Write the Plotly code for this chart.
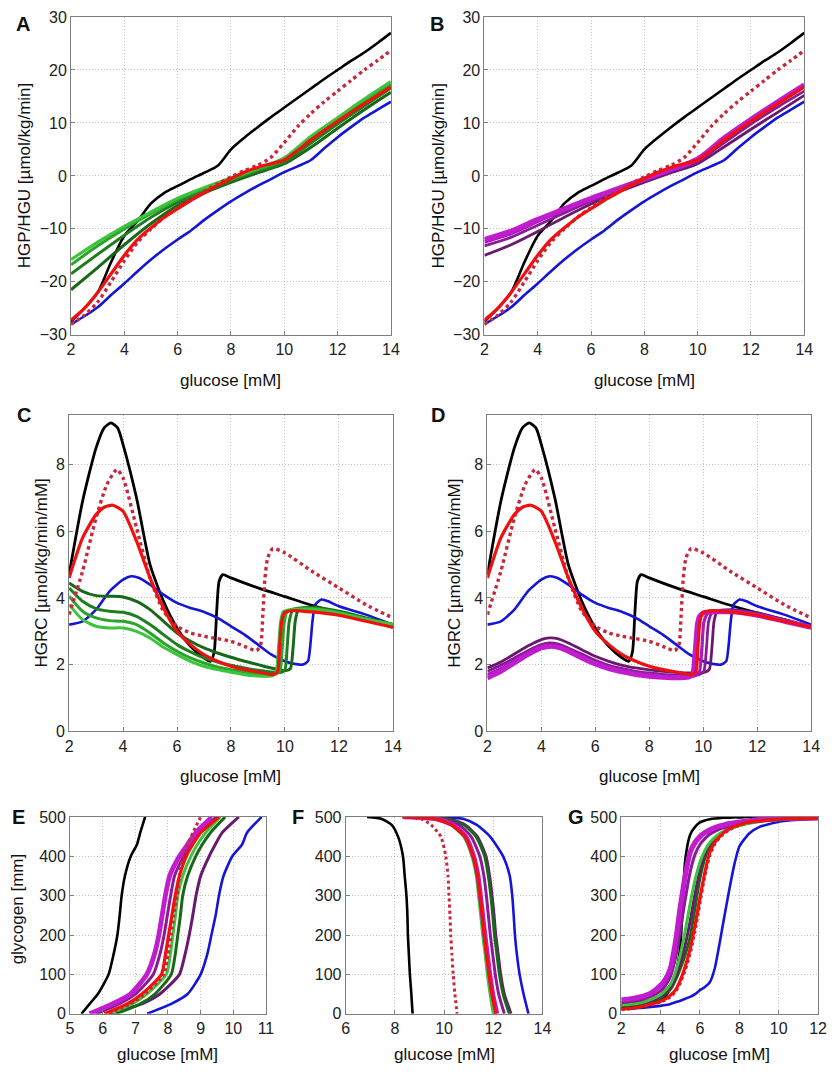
import plotly.graph_objects as go

# ---------------- Panel A / B : HGP/HGU vs glucose ----------------
glu_AB = [2, 2.5, 3, 3.5, 4, 4.5, 5, 5.5, 6, 6.5, 7, 7.5, 8, 8.5, 9, 9.5, 10, 10.5, 11, 11.5, 12, 12.5, 13, 13.5, 14]
hgp_black = [-27.5, -25, -22, -16.3, -11.3, -8.5, -5.2, -3.2, -1.9, -0.6, 0.6, 1.9, 5.0, 7.2, 9.2, 11.1, 12.9, 14.7, 16.5, 18.3, 20.0, 21.7, 23.3, 25.1, 27.0]
hgp_reddot = [-28, -26.3, -23.8, -20, -16, -12.5, -10, -7.8, -6, -4.3, -2.8, -1.5, -0.2, 1.0, 2.0, 3.5, 6.3, 9.3, 11.8, 14, 16, 18, 20, 21.8, 23.7]
hgp_red = [-27.2, -25, -22, -18.5, -15, -12, -9.8, -7.8, -6.2, -4.6, -3.2, -1.8, -0.5, 0.7, 1.6, 2.3, 3.0, 4.8, 6.8, 8.6, 10.3, 12, 13.6, 15.2, 16.8]
hgp_blue = [-28, -26.5, -24.8, -22.5, -20.3, -18, -15.8, -13.8, -12, -10.3, -8.3, -6.5, -4.8, -3.3, -1.9, -0.6, 0.7, 1.8, 3.0, 5.2, 7.3, 9.2, 11, 12.5, 14.0]

glu_AB_int = [2, 3, 4, 5, 6, 7, 8, 9, 10, 11, 12, 13, 14]
hgp_g1 = [-15.8, -12.5, -9.5, -6.8, -4.2, -2.2, -0.4, 1.4, 3.4, 7.5, 11, 14.5, 17.8]
hgp_g2 = [-16.8, -13.2, -10, -7.1, -4.5, -2.4, -0.6, 1.2, 3.0, 7.0, 10.5, 14, 17.3]
hgp_g3 = [-18.5, -14.8, -11.2, -7.8, -5.0, -2.8, -0.9, 0.9, 2.6, 6.2, 9.8, 13.2, 16.6]
hgp_g4 = [-21.5, -17.3, -13, -9, -5.6, -3.2, -1.2, 0.6, 2.3, 5.4, 9.0, 12.5, 15.8]
hgp_p1 = [-12, -10.4, -8.2, -6.2, -4.2, -2.4, -0.6, 1.2, 3.2, 7.2, 10.7, 14, 17.2]
hgp_p2 = [-12.5, -10.9, -8.6, -6.5, -4.5, -2.6, -0.7, 1.1, 3.0, 6.9, 10.4, 13.7, 16.8]
hgp_p3 = [-13.2, -11.6, -9.3, -7.0, -4.8, -2.8, -0.9, 0.9, 2.7, 6.3, 9.8, 13.0, 16.0]
hgp_p4 = [-15.0, -13.0, -10.5, -7.8, -5.3, -3.1, -1.2, 0.6, 2.3, 5.5, 8.8, 12.0, 15.2]

# ---------------- Panel C / D : HGRC vs glucose ----------------
glu_C_black = [2, 2.5, 3, 3.3, 3.55, 3.8, 4, 4.5, 5, 5.5, 6, 6.5, 7, 7.25, 7.38, 7.47, 7.56, 7.7, 8, 9, 10, 11, 12, 13, 14]
hgrc_black = [4.7, 6.9, 8.5, 9.1, 9.25, 9.1, 8.6, 7.0, 5.0, 3.9, 3.1, 2.55, 2.2, 2.1, 2.4, 3.6, 4.5, 4.7, 4.6, 4.3, 4.04, 3.78, 3.55, 3.35, 3.12]
glu_C_reddot = [2, 2.5, 3, 3.4, 3.77, 4, 4.5, 5, 5.5, 6, 6.5, 7, 7.5, 8, 8.5, 8.95, 9.1, 9.18, 9.26, 9.36, 9.55, 10, 11, 12, 13, 14]
hgrc_reddot = [3.5, 4.8, 6.4, 7.4, 7.85, 7.6, 6.1, 4.6, 3.6, 3.15, 2.95, 2.85, 2.78, 2.7, 2.55, 2.42, 2.6, 3.5, 4.6, 5.2, 5.48, 5.35, 4.8, 4.3, 3.8, 3.4]
glu_C_red = [2, 2.5, 3, 3.3, 3.62, 4, 4.5, 5, 5.5, 6, 6.5, 7, 7.5, 8, 8.5, 9, 9.55, 9.72, 9.8, 9.88, 9.98, 10.3, 11, 12, 13, 14]
hgrc_red = [4.6, 5.8, 6.5, 6.72, 6.78, 6.6, 5.7, 4.6, 3.7, 3.0, 2.6, 2.3, 2.1, 1.95, 1.85, 1.78, 1.7, 1.78, 2.5, 3.3, 3.55, 3.62, 3.58, 3.48, 3.3, 3.12]
glu_C_blue = [2, 2.5, 3, 3.5, 4, 4.3, 4.6, 5, 5.5, 6, 6.5, 7, 7.5, 8, 8.5, 9, 9.5, 10, 10.3, 10.65, 10.85, 10.93, 11.02, 11.12, 11.35, 11.6, 12, 13, 14]
hgrc_blue = [3.2, 3.3, 3.65, 4.2, 4.55, 4.65, 4.6, 4.4, 4.1, 3.85, 3.7, 3.58, 3.4, 3.15, 2.9, 2.6, 2.3, 2.1, 2.03, 2.0, 2.1, 2.5, 3.3, 3.8, 3.95, 3.9, 3.75, 3.5, 3.2]

glu_C_g4 = [2, 2.5, 3, 3.5, 4, 4.5, 5, 5.5, 6, 6.5, 7, 7.5, 8, 8.5, 9, 9.5, 10, 10.2, 10.3, 10.38, 10.5, 11, 12, 13, 14]
hgrc_g4 = [4.45, 4.2, 4.07, 4.05, 4.03, 3.9, 3.65, 3.3, 2.95, 2.7, 2.5, 2.35, 2.22, 2.1, 2.0, 1.9, 1.82, 1.88, 2.5, 3.3, 3.65, 3.72, 3.6, 3.4, 3.2]
glu_C_g3 = [2, 2.5, 3, 3.5, 4, 4.5, 5, 5.5, 6, 6.5, 7, 7.5, 8, 8.5, 9, 9.5, 9.85, 10.0, 10.08, 10.16, 10.3, 11, 12, 13, 14]
hgrc_g3 = [4.3, 3.9, 3.68, 3.6, 3.57, 3.45, 3.2, 2.9, 2.6, 2.38, 2.2, 2.08, 1.98, 1.9, 1.83, 1.78, 1.77, 1.85, 2.5, 3.3, 3.65, 3.7, 3.58, 3.38, 3.2]
glu_C_g2 = [2, 2.5, 3, 3.5, 4, 4.5, 5, 5.5, 6, 6.5, 7, 7.5, 8, 8.5, 9, 9.4, 9.68, 9.82, 9.9, 9.98, 10.1, 11, 12, 13, 14]
hgrc_g2 = [4.05, 3.6, 3.4, 3.32, 3.3, 3.2, 2.95, 2.65, 2.4, 2.2, 2.05, 1.93, 1.85, 1.78, 1.72, 1.7, 1.72, 1.85, 2.5, 3.3, 3.62, 3.68, 3.56, 3.37, 3.2]
glu_C_g1 = [2, 2.5, 3, 3.5, 4, 4.5, 5, 5.5, 6, 6.5, 7, 7.5, 8, 8.5, 9, 9.3, 9.55, 9.68, 9.76, 9.84, 9.95, 11, 12, 13, 14]
hgrc_g1 = [3.8, 3.35, 3.15, 3.1, 3.1, 3.0, 2.8, 2.52, 2.3, 2.1, 1.95, 1.85, 1.77, 1.7, 1.66, 1.65, 1.67, 1.8, 2.5, 3.3, 3.6, 3.66, 3.55, 3.36, 3.2]

glu_D_p4 = [2, 2.5, 3, 3.5, 4, 4.3, 4.6, 5, 5.5, 6, 6.5, 7, 7.5, 8, 8.5, 9, 9.5, 10, 10.22, 10.32, 10.4, 10.52, 11, 12, 13, 14]
hgrc_p4 = [1.9, 2.08, 2.32, 2.56, 2.75, 2.8, 2.78, 2.65, 2.45, 2.25, 2.1, 1.98, 1.9, 1.84, 1.8, 1.77, 1.75, 1.76, 1.85, 2.5, 3.3, 3.6, 3.65, 3.55, 3.35, 3.15]
glu_D_p3 = [2, 2.5, 3, 3.5, 4, 4.3, 4.6, 5, 5.5, 6, 6.5, 7, 7.5, 8, 8.5, 9, 9.5, 9.85, 10.02, 10.12, 10.2, 10.35, 11, 12, 13, 14]
hgrc_p3 = [1.8, 1.98, 2.2, 2.42, 2.6, 2.65, 2.62, 2.5, 2.32, 2.13, 1.98, 1.88, 1.8, 1.75, 1.71, 1.69, 1.68, 1.7, 1.8, 2.5, 3.3, 3.58, 3.62, 3.52, 3.33, 3.14]
glu_D_p2 = [2, 2.5, 3, 3.5, 4, 4.3, 4.6, 5, 5.5, 6, 6.5, 7, 7.5, 8, 8.5, 9, 9.5, 9.72, 9.86, 9.95, 10.03, 10.2, 11, 12, 13, 14]
hgrc_p2 = [1.7, 1.88, 2.12, 2.36, 2.55, 2.58, 2.56, 2.44, 2.26, 2.07, 1.93, 1.83, 1.75, 1.7, 1.66, 1.64, 1.64, 1.68, 1.8, 2.5, 3.3, 3.56, 3.6, 3.5, 3.3, 3.12]
glu_D_p1 = [2, 2.5, 3, 3.5, 4, 4.4, 4.7, 5, 5.5, 6, 6.5, 7, 7.5, 8, 8.5, 9, 9.45, 9.6, 9.7, 9.78, 9.86, 10.0, 11, 12, 13, 14]
hgrc_p1 = [1.6, 1.8, 2.05, 2.3, 2.5, 2.55, 2.5, 2.4, 2.2, 2.02, 1.88, 1.78, 1.7, 1.65, 1.62, 1.6, 1.62, 1.7, 2.4, 3.2, 3.45, 3.55, 3.58, 3.48, 3.3, 3.12]

# ---------------- Panel E : glycogen vs glucose ----------------
glyc_E = [0, 25, 50, 100, 150, 200, 250, 300, 350, 400, 430, 460, 500]
gluE_black = [5.35, 5.6, 5.85, 6.18, 6.33, 6.45, 6.52, 6.58, 6.68, 6.86, 7.05, 7.15, 7.3]
gluE_blue = [7.36, 8.1, 8.6, 9.0, 9.2, 9.33, 9.46, 9.56, 9.7, 9.97, 10.27, 10.42, 10.87]
gluE_p4 = [6.2, 7.2, 7.75, 8.35, 8.52, 8.65, 8.76, 8.86, 9.0, 9.26, 9.45, 9.66, 10.17]
gluE_g4 = [6.4, 7.15, 7.6, 8.1, 8.22, 8.3, 8.38, 8.45, 8.6, 8.85, 9.05, 9.3, 9.75]
gluE_g1 = [6.2, 6.9, 7.35, 7.95, 8.07, 8.15, 8.23, 8.3, 8.45, 8.7, 8.9, 9.15, 9.6]
gluE_p3 = [5.8, 6.5, 7.0, 7.55, 7.75, 7.88, 7.98, 8.08, 8.2, 8.48, 8.7, 8.95, 9.48]
gluE_p1 = [5.6, 6.3, 6.85, 7.35, 7.58, 7.72, 7.82, 7.92, 8.05, 8.35, 8.6, 8.85, 9.35]
gluE_reddot = [6.2, 6.85, 7.3, 7.88, 8.0, 8.1, 8.18, 8.28, 8.35, 8.46, 8.6, 8.76, 9.0]
gluE_red = [6.05, 6.75, 7.2, 7.8, 7.92, 8.02, 8.12, 8.22, 8.35, 8.56, 8.76, 9.0, 9.56]

# ---------------- Panel F ----------------
glyc_F = [500, 495, 480, 450, 400, 350, 300, 250, 200, 150, 100, 50, 0]
gluF_black = [6.87, 7.47, 7.87, 8.13, 8.33, 8.4, 8.47, 8.51, 8.53, 8.57, 8.61, 8.67, 8.72]
gluF_reddot = [8.33, 9.07, 9.47, 9.87, 10.07, 10.16, 10.2, 10.24, 10.27, 10.32, 10.37, 10.44, 10.53]
gluF_g1 = [8.4, 9.6, 10.27, 10.8, 11.13, 11.31, 11.4, 11.49, 11.57, 11.67, 11.76, 11.87, 12.0]
gluF_p1 = [8.35, 9.7, 10.35, 10.88, 11.2, 11.38, 11.48, 11.57, 11.66, 11.76, 11.86, 11.98, 12.15]
gluF_red = [8.3, 9.65, 10.3, 10.85, 11.18, 11.36, 11.46, 11.55, 11.63, 11.73, 11.83, 11.95, 12.1]
gluF_p3 = [8.6, 9.9, 10.6, 11.1, 11.45, 11.62, 11.72, 11.8, 11.88, 11.98, 12.08, 12.22, 12.45]
gluF_g4 = [8.9, 10.1, 10.8, 11.3, 11.65, 11.8, 11.9, 11.98, 12.05, 12.15, 12.25, 12.4, 12.65]
gluF_p4 = [9.0, 10.2, 10.85, 11.35, 11.7, 11.85, 11.95, 12.03, 12.1, 12.2, 12.3, 12.45, 12.72]
gluF_blue = [9.73, 10.8, 11.33, 11.87, 12.4, 12.67, 12.77, 12.83, 12.88, 12.96, 13.07, 13.23, 13.43]

# ---------------- Panel G ----------------
glu_G = [2, 2.5, 3, 3.5, 4, 4.25, 4.5, 4.75, 5, 5.25, 5.5, 5.75, 6, 6.25, 6.5, 6.75, 7, 7.25, 7.5, 7.75, 8, 8.5, 9, 10, 11, 12]
glycG_black = [15, 17, 21, 27, 35, 45, 65, 100, 170, 390, 455, 475, 486, 491, 494, 496, 497, 498, 498, 499, 499, 500, 500, 500, 500, 500]
glycG_blue = [12, 13, 15, 17, 20, 22, 25, 29, 33, 38, 43, 50, 60, 68, 80, 115, 180, 250, 318, 380, 425, 458, 474, 488, 493, 495]
glycG_p1 = [35, 38, 43, 52, 72, 88, 115, 180, 270, 350, 410, 435, 450, 460, 467, 473, 477, 480, 483, 485, 487, 490, 493, 496, 497, 498]
glycG_p3 = [28, 31, 35, 44, 58, 72, 95, 140, 210, 290, 360, 405, 430, 445, 456, 463, 469, 473, 477, 480, 483, 487, 490, 494, 496, 497]
glycG_g1 = [22, 24, 28, 36, 48, 60, 75, 105, 150, 210, 280, 340, 385, 415, 435, 448, 458, 464, 470, 474, 478, 484, 488, 493, 496, 497]
glycG_p4 = [22, 24, 28, 34, 44, 54, 68, 92, 128, 175, 235, 305, 365, 405, 430, 445, 456, 464, 470, 475, 479, 485, 489, 494, 496, 497]
glycG_g4 = [20, 22, 25, 31, 40, 50, 62, 85, 115, 150, 195, 270, 345, 395, 425, 443, 455, 463, 470, 475, 478, 485, 489, 494, 496, 497]
glycG_reddot = [11, 13, 17, 22, 30, 35, 43, 55, 78, 110, 152, 210, 280, 350, 402, 430, 447, 459, 467, 474, 479, 486, 489, 494, 496, 497]
glycG_red = [12, 14, 18, 24, 32, 38, 47, 60, 85, 120, 165, 225, 295, 360, 410, 435, 450, 462, 470, 476, 481, 487, 490, 494, 496, 497]

# ---------------- styles ----------------
C_BLACK = "#000000"
C_BLUE = "#1515d8"
C_RED = "#f01010"
C_REDDOT = "#c8283c"
C_G = ["#3cc43c", "#2aa52a", "#1f7f1f", "#176817"]
C_P = ["#c21ccf", "#a81cbb", "#8a1a96", "#6a1a6e"]

# The page adds an 8 px body margin, so the figure is drawn 16 px smaller
# and all reference pixel positions are shifted by OFF.
W = 824
H = 1060
OFF = 8
FONT = "Liberation Sans, Arial, Helvetica, sans-serif"

fig = go.Figure()

boxes = {
    1: (68, 9, 393, 332),
    2: (488, 9, 813, 332),
    3: (66, 413, 395, 735),
    4: (491, 413, 820, 735),
    5: (67, 822, 266, 1022),
    6: (347, 822, 547, 1022),
    7: (627, 822, 827, 1022),
}


def clamp(v):
    return min(1.0, max(0.0, v))


def px(x):
    return (x - OFF) / W


def py(y):
    return 1 - (y - OFF) / H


def ax_names(i):
    return ("x" if i == 1 else f"x{i}"), ("y" if i == 1 else f"y{i}")


def add(i, x, y, color, width, dash="solid", smooth=0.8):
    xa, ya = ax_names(i)
    fig.add_trace(go.Scatter(x=x, y=y, mode="lines", xaxis=xa, yaxis=ya,
                             line=dict(color=color, width=width, dash=dash,
                                       shape="spline", smoothing=smooth),
                             showlegend=False, hoverinfo="skip"))


# Panel A / B
for i in (1, 2):
    add(i, glu_AB, hgp_black, C_BLACK, 2.6)
    add(i, glu_AB, hgp_blue, C_BLUE, 2.6)
for y, c in zip([hgp_g4, hgp_g3, hgp_g2, hgp_g1], [C_G[3], C_G[2], C_G[1], C_G[0]]):
    add(1, glu_AB_int, y, c, 3.0)
for y, c, w in zip([hgp_p4, hgp_p3, hgp_p2, hgp_p1], [C_P[3], C_P[2], C_P[1], C_P[0]], [2.8, 2.8, 3.2, 4.8]):
    add(2, glu_AB_int, y, c, w)
for i in (1, 2):
    add(i, glu_AB, hgp_reddot, C_REDDOT, 3.4, "dot")
    add(i, glu_AB, hgp_red, C_RED, 3.2)

# Panel C / D
for i in (3, 4):
    add(i, glu_C_black, hgrc_black, C_BLACK, 2.8, smooth=0.6)
    add(i, glu_C_blue, hgrc_blue, C_BLUE, 2.6, smooth=0.6)
for x, y, c in [(glu_C_g4, hgrc_g4, C_G[3]), (glu_C_g3, hgrc_g3, C_G[2]),
                (glu_C_g2, hgrc_g2, C_G[1]), (glu_C_g1, hgrc_g1, C_G[0])]:
    add(3, x, y, c, 3.0, smooth=0.6)
for x, y, c, w in [(glu_D_p4, hgrc_p4, C_P[3], 2.8), (glu_D_p3, hgrc_p3, C_P[2], 2.8),
                   (glu_D_p2, hgrc_p2, C_P[1], 3.2), (glu_D_p1, hgrc_p1, C_P[0], 4.8)]:
    add(4, x, y, c, w, smooth=0.6)
for i in (3, 4):
    add(i, glu_C_reddot, hgrc_reddot, C_REDDOT, 3.4, "dot", smooth=0.6)
    add(i, glu_C_red, hgrc_red, C_RED, 3.2, smooth=0.6)

# Panel E
for x, c, w, d in [(gluE_black, C_BLACK, 2.6, "solid"), (gluE_blue, C_BLUE, 2.6, "solid"),
                   (gluE_p4, C_P[3], 3, "solid"), (gluE_g4, C_G[3], 3, "solid"),
                   (gluE_g1, C_G[0], 3, "solid"), (gluE_p3, C_P[2], 3, "solid"),
                   (gluE_p1, C_P[0], 4.8, "solid"), (gluE_reddot, C_REDDOT, 3, "dot"),
                   (gluE_red, C_RED, 3.2, "solid")]:
    add(5, x, glyc_E, c, w, d, smooth=0.6)

# Panel F
for x, c, w, d in [(gluF_black, C_BLACK, 2.6, "solid"), (gluF_blue, C_BLUE, 2.6, "solid"),
                   (gluF_p4, C_P[3], 3, "solid"), (gluF_g4, C_G[3], 3, "solid"),
                   (gluF_g1, C_G[0], 3, "solid"), (gluF_p3, C_P[2], 3, "solid"),
                   (gluF_p1, C_P[0], 4.8, "solid"), (gluF_reddot, C_REDDOT, 3, "dot"),
                   (gluF_red, C_RED, 3.2, "solid")]:
    add(6, x, glyc_F, c, w, d, smooth=0.6)

# Panel G
for y, c, w, d in [(glycG_black, C_BLACK, 2.6, "solid"), (glycG_blue, C_BLUE, 2.6, "solid"),
                   (glycG_g4, C_G[3], 3, "solid"), (glycG_p4, C_P[3], 3, "solid"),
                   (glycG_g1, C_G[0], 3, "solid"), (glycG_p3, C_P[2], 3, "solid"),
                   (glycG_p1, C_P[0], 5.2, "solid"), (glycG_reddot, C_REDDOT, 3, "dot"),
                   (glycG_red, C_RED, 3.2, "solid")]:
    add(7, glu_G, y, c, w, d, smooth=0.6)

axis_spec = {
    1: dict(xr=[2, 14], xt=2, yr=[-30, 30], yt=10),
    2: dict(xr=[2, 14], xt=2, yr=[-30, 30], yt=10),
    3: dict(xr=[2, 14], xt=2, yr=[0, 9.5], yt=2),
    4: dict(xr=[2, 14], xt=2, yr=[0, 9.5], yt=2),
    5: dict(xr=[5, 11], xt=1, yr=[0, 500], yt=100),
    6: dict(xr=[6, 14], xt=2, yr=[0, 500], yt=100),
    7: dict(xr=[2, 12], xt=2, yr=[0, 500], yt=100),
}

layout = dict(width=W, height=H, margin=dict(l=0, r=0, t=0, b=0),
              paper_bgcolor="white", plot_bgcolor="white",
              font=dict(family=FONT, size=16, color="#222222"))

common = dict(showline=True, mirror=True, linecolor="#7f7f7f", linewidth=1,
              showgrid=True, gridcolor="#c4c4c4", griddash="1px,2px", gridwidth=1,
              ticks="inside", ticklen=4, tickcolor="#7f7f7f",
              zeroline=False, tickfont=dict(family=FONT, size=16, color="#222222"))

for i, (x0, y0, x1, y1) in boxes.items():
    s = axis_spec[i]
    xk = "xaxis" if i == 1 else f"xaxis{i}"
    yk = "yaxis" if i == 1 else f"yaxis{i}"
    xa, ya = ax_names(i)
    layout[xk] = dict(domain=[clamp(px(x0)), clamp(px(x1))], range=s["xr"], dtick=s["xt"], tick0=s["xr"][0],
                      anchor=ya, **common)
    layout[yk] = dict(domain=[clamp(py(y1)), clamp(py(y0))], range=s["yr"], dtick=s["yt"], tick0=0,
                      anchor=xa, **common)

fig.update_layout(**layout)

ann = []


def txt(x, y, t, size=16, bold=False, angle=0):
    ann.append(dict(x=px(x), y=py(y), xref="paper", yref="paper", text=(f"<b>{t}</b>" if bold else t),
                    showarrow=False, textangle=angle, xanchor="center", yanchor="middle",
                    font=dict(family=FONT, size=size, color="#111111")))


for lab, x, y in [("A", 19, 16), ("B", 440, 16), ("C", 20, 414), ("D", 441, 414),
                  ("E", 15, 822), ("F", 299, 822), ("G", 581, 822)]:
    txt(x, y, lab, size=20, bold=True)

for i, (x0, y0, x1, y1) in boxes.items():
    txt((x0 + x1) / 2, y1 + (46 if i <= 4 else 41), "glucose [mM]", size=17)

txt(21, 170, "HGP/HGU [µmol/kg/min]", size=17, angle=-90)
txt(441, 170, "HGP/HGU [µmol/kg/min]", size=17, angle=-90)
txt(38, 574, "HGRC [µmol/kg/min/mM]", size=17, angle=-90)
txt(458, 574, "HGRC [µmol/kg/min/mM]", size=17, angle=-90)
txt(14, 915, "glycogen [mm]", size=17, angle=-90)

fig.update_layout(annotations=ann)
fig.write_html("out.html")
